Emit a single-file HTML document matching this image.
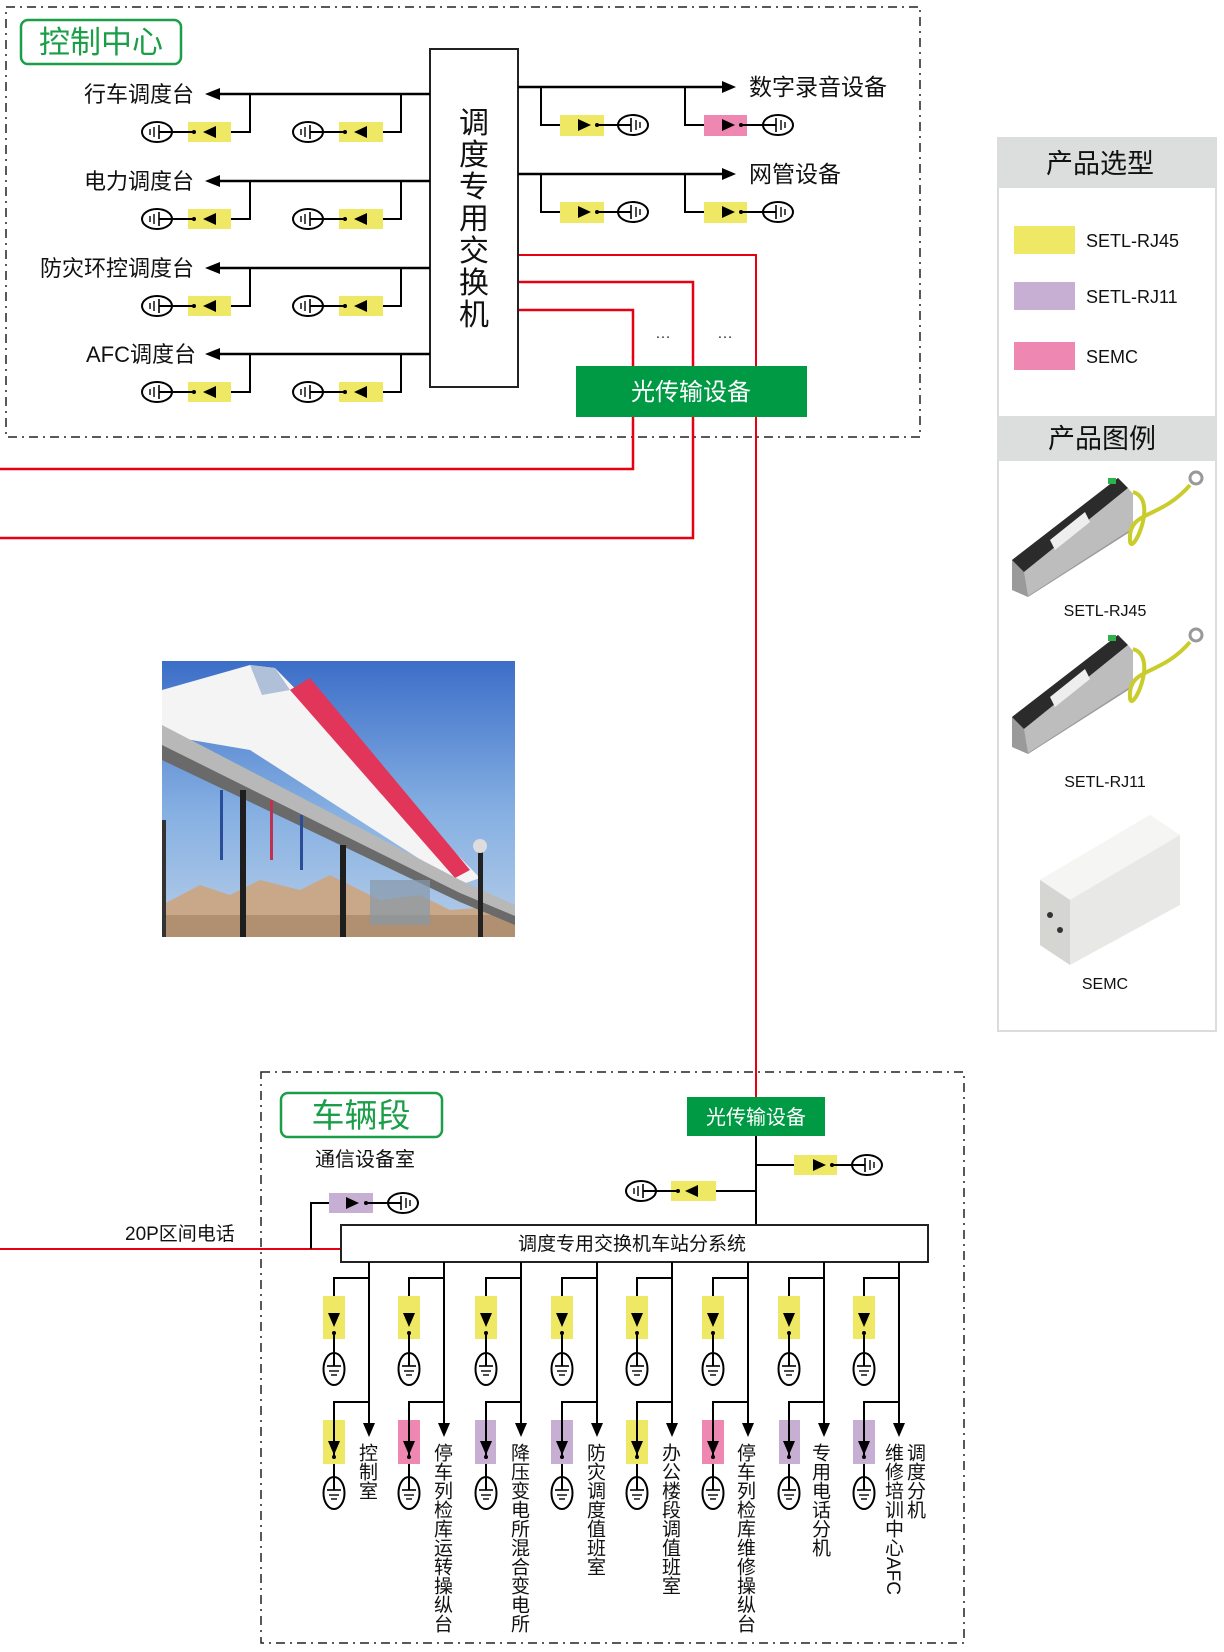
<!DOCTYPE html>
<html><head><meta charset="utf-8">
<style>
html,body{margin:0;padding:0;background:#fff;}
body{width:1224px;height:1652px;position:relative;overflow:hidden;font-family:"Liberation Sans","Noto Sans CJK SC",sans-serif;}
svg{position:absolute;left:0;top:0;}
.vt{position:absolute;writing-mode:vertical-rl;text-orientation:mixed;font-size:19px;line-height:21px;color:#111;font-family:"Liberation Sans","Noto Sans CJK SC",sans-serif;}
</style></head><body>
<svg width="1224" height="1652" viewBox="0 0 1224 1652" xmlns="http://www.w3.org/2000/svg" font-family="Liberation Sans, Noto Sans CJK SC, sans-serif">
<defs>
  <g id="gL">
    <ellipse cx="0" cy="0" rx="15" ry="10" fill="#fff" stroke="#000" stroke-width="2"/>
    <line x1="2" y1="0" x2="16" y2="0" stroke="#000" stroke-width="2"/>
    <line x1="2" y1="-7" x2="2" y2="7" stroke="#000" stroke-width="1.6"/>
    <line x1="-3" y1="-5" x2="-3" y2="5" stroke="#000" stroke-width="1.4"/>
    <line x1="-7" y1="-3" x2="-7" y2="3" stroke="#000" stroke-width="1.4"/>
  </g>
  <g id="gR"><use href="#gL" transform="scale(-1,1)"/></g>
  <g id="gV">
    <ellipse cx="0" cy="0" rx="10.5" ry="16" fill="#fff" stroke="#000" stroke-width="2"/>
    <line x1="0" y1="-17" x2="0" y2="-3" stroke="#000" stroke-width="2"/>
    <line x1="-7" y1="-3" x2="7" y2="-3" stroke="#000" stroke-width="1.6"/>
    <line x1="-5" y1="2" x2="5" y2="2" stroke="#000" stroke-width="1.4"/>
    <line x1="-3" y1="6" x2="3" y2="6" stroke="#000" stroke-width="1.4"/>
  </g>
  <linearGradient id="sky" x1="0" y1="0" x2="0" y2="1">
    <stop offset="0" stop-color="#3c6ec8"/><stop offset="0.55" stop-color="#86b0e2"/><stop offset="1" stop-color="#b6cde8"/>
  </linearGradient>
</defs>

<rect x="6" y="7" width="914" height="430" fill="none" stroke="#222" stroke-width="1.5" stroke-dasharray="9,5,2,5"/>
<rect x="261" y="1072" width="703" height="571" fill="none" stroke="#222" stroke-width="1.5" stroke-dasharray="9,5,2,5"/>

<g fill="none" stroke="#e60012" stroke-width="2.5">
  <polyline points="518,310 633,310 633,469 0,469"/>
  <polyline points="518,282 693,282 693,538 0,538"/>
  <polyline points="518,255 756,255 756,1097" stroke-width="2"/>
  <polyline points="0,1249 341,1249" stroke-width="2"/>
</g>

<rect x="21" y="20" width="160" height="44" rx="7" fill="#fff" stroke="#1a9e48" stroke-width="2.5"/>
<text x="101" y="53" font-size="31" fill="#1a9e48" text-anchor="middle">控制中心</text>

<rect x="430" y="49" width="88" height="338" fill="#fff" stroke="#222" stroke-width="2"/>
<g font-size="30" fill="#111" text-anchor="middle">
  <text x="474" y="133">调</text><text x="474" y="165">度</text><text x="474" y="197">专</text><text x="474" y="229">用</text><text x="474" y="261">交</text><text x="474" y="293">换</text><text x="474" y="325">机</text>
</g>

<g font-size="22" fill="#111" text-anchor="end">
  <text x="194" y="102">行车调度台</text>
  <text x="194" y="189">电力调度台</text>
  <text x="194" y="276">防灾环控调度台</text>
  <text x="196" y="362">AFC调度台</text>
</g>
<g id="row1">
  <line x1="217" y1="94" x2="430" y2="94" stroke="#000" stroke-width="2.5"/>
  <polygon points="205,94 220,88 220,100" fill="#000"/>
  <polyline points="250,94 250,132 214,132" fill="none" stroke="#000" stroke-width="2"/>
  <polyline points="401,94 401,132 365,132" fill="none" stroke="#000" stroke-width="2"/>
  <rect x="188" y="122" width="43" height="20" fill="#efe865"/>
  <rect x="339" y="122" width="44" height="20" fill="#efe865"/>
  <polygon points="203,132 216,126 216,138" fill="#000"/>
  <polygon points="354,132 367,126 367,138" fill="#000"/>
  <circle cx="194" cy="132" r="2" fill="#000"/><circle cx="345" cy="132" r="2" fill="#000"/>
  <line x1="172" y1="132" x2="194" y2="132" stroke="#000" stroke-width="2"/>
  <line x1="323" y1="132" x2="345" y2="132" stroke="#000" stroke-width="2"/>
  <use href="#gL" x="157" y="132"/>
  <use href="#gL" x="308" y="132"/>
</g>
<use href="#row1" y="87"/>
<use href="#row1" y="174"/>
<use href="#row1" y="260"/>

<g font-size="23" fill="#111">
  <text x="749" y="95">数字录音设备</text>
  <text x="749" y="182">网管设备</text>
</g>
<g id="rrow">
  <line x1="518" y1="87" x2="724" y2="87" stroke="#000" stroke-width="2.5"/>
  <polygon points="736,87 722,81 722,93" fill="#000"/>
  <polyline points="541,87 541,125 580,125" fill="none" stroke="#000" stroke-width="2"/>
  <polyline points="685,87 685,125 722,125" fill="none" stroke="#000" stroke-width="2"/>
  <rect x="560" y="115" width="44" height="21" fill="#efe865"/>
  <polygon points="591,125 578,119 578,131" fill="#000"/>
  <circle cx="597" cy="125" r="2" fill="#000"/>
  <line x1="597" y1="125" x2="619" y2="125" stroke="#000" stroke-width="2"/>
  <use href="#gR" x="633" y="125"/>
</g>
<rect x="704" y="115" width="43" height="21" fill="#ee88b3"/>
<polygon points="735,125 722,119 722,131" fill="#000"/>
<circle cx="741" cy="125" r="2" fill="#000"/>
<line x1="741" y1="125" x2="764" y2="125" stroke="#000" stroke-width="2"/>
<use href="#gR" x="778" y="125"/>
<use href="#rrow" y="87"/>
<rect x="704" y="202" width="43" height="21" fill="#efe865"/>
<polygon points="735,212 722,206 722,218" fill="#000"/>
<circle cx="741" cy="212" r="2" fill="#000"/>
<line x1="741" y1="212" x2="764" y2="212" stroke="#000" stroke-width="2"/>
<use href="#gR" x="778" y="212"/>

<g font-size="16" fill="#333"><text x="655" y="338">…</text><text x="717" y="338">…</text></g>

<rect x="576" y="366" width="231" height="51" fill="#009a44"/>
<text x="691" y="400" font-size="24" fill="#fff" text-anchor="middle">光传输设备</text>

<!-- photo -->
<svg x="162" y="661" width="353" height="276" viewBox="162 661 353 276">
  <rect x="162" y="661" width="353" height="276" fill="url(#sky)"/>
  <polygon points="162,905 200,885 230,895 260,880 300,890 330,875 380,900 420,895 450,910 515,905 515,937 162,937" fill="#c9a88a"/>
  <rect x="162" y="915" width="353" height="22" fill="#b09070"/>
  <polygon points="162,690 250,665 275,668 480,878 460,885 250,750 162,735" fill="#f4f4f4"/>
  <polygon points="290,690 310,678 470,870 455,878" fill="#e2355a"/>
  <polygon points="250,665 275,668 290,690 262,695" fill="#b0c0d8"/>
  <polygon points="162,725 460,880 515,905 515,918 460,895 162,752" fill="#b8b8b8"/>
  <polygon points="162,745 460,893 515,916 515,925 460,902 162,760" fill="#6a6a6a"/>
  <rect x="240" y="790" width="6" height="147" fill="#1e1e1e"/>
  <rect x="340" y="845" width="6" height="92" fill="#1e1e1e"/>
  <rect x="162" y="820" width="4" height="117" fill="#333"/>
  <rect x="478" y="850" width="5" height="87" fill="#222"/>
  <circle cx="480" cy="846" r="7" fill="#ddd"/>
  <rect x="220" y="790" width="3" height="70" fill="#2a4d9a"/>
  <rect x="270" y="800" width="3" height="60" fill="#c03050"/>
  <rect x="300" y="815" width="3" height="55" fill="#2a4d9a"/>
  <rect x="370" y="880" width="60" height="45" fill="#8898a8" opacity="0.7"/>
</svg>

<!-- legend -->
<rect x="998" y="138" width="218" height="893" fill="#fff" stroke="#dcdcdc" stroke-width="2"/>
<rect x="998" y="138" width="218" height="50" fill="#dcdddd"/>
<text x="1100" y="173" font-size="27" fill="#111" text-anchor="middle">产品选型</text>
<rect x="1014" y="226" width="61" height="28" fill="#efe865"/>
<rect x="1014" y="282" width="61" height="28" fill="#c6afd3"/>
<rect x="1014" y="342" width="61" height="28" fill="#ee88b3"/>
<g font-size="18" fill="#111">
  <text x="1086" y="247">SETL-RJ45</text>
  <text x="1086" y="303">SETL-RJ11</text>
  <text x="1086" y="363">SEMC</text>
</g>
<rect x="998" y="416" width="218" height="45" fill="#dcdddd"/>
<text x="1102" y="448" font-size="27" fill="#111" text-anchor="middle">产品图例</text>
<g id="dev">
  <polygon points="1012,560 1118,478 1133,494 1133,530 1028,597 1012,590" fill="#9a9a9a"/>
  <polygon points="1012,560 1118,478 1128,488 1024,572" fill="#2b2b2b"/>
  <polygon points="1024,572 1128,488 1133,494 1133,528 1028,596" fill="#bdbdbd"/>
  <polygon points="1050,540 1085,512 1090,522 1055,550" fill="#eee"/>
  <rect x="1108" y="478" width="8" height="6" fill="#2db34a"/>
  <path d="M1133,492 C1160,500 1130,560 1130,540 C1128,510 1160,520 1190,485" fill="none" stroke="#c9cc2a" stroke-width="4"/>
  <circle cx="1196" cy="478" r="6" fill="none" stroke="#999" stroke-width="3"/>
</g>
<use href="#dev" y="157"/>
<g>
  <polygon points="1040,880 1150,815 1180,835 1180,905 1070,965 1040,945" fill="#e8e8e6"/>
  <polygon points="1040,880 1150,815 1180,835 1070,900" fill="#f5f5f3"/>
  <polygon points="1040,880 1070,900 1070,965 1040,945" fill="#d5d5d2"/>
  <circle cx="1050" cy="915" r="3" fill="#333"/><circle cx="1060" cy="930" r="3" fill="#333"/>
</g>
<g font-size="16" fill="#111" text-anchor="middle">
  <text x="1105" y="616">SETL-RJ45</text>
  <text x="1105" y="787">SETL-RJ11</text>
  <text x="1105" y="989">SEMC</text>
</g>

<rect x="281" y="1093" width="161" height="44" rx="7" fill="#fff" stroke="#1a9e48" stroke-width="2.5"/>
<text x="361" y="1127" font-size="33" fill="#1a9e48" text-anchor="middle">车辆段</text>
<text x="315" y="1166" font-size="20" fill="#111">通信设备室</text>
<text x="125" y="1240" font-size="19" fill="#111">20P区间电话</text>

<rect x="687" y="1097" width="138" height="39" fill="#009a44"/>
<text x="756" y="1124" font-size="20" fill="#fff" text-anchor="middle">光传输设备</text>
<line x1="756" y1="1136" x2="756" y2="1225" stroke="#000" stroke-width="2"/>
<line x1="756" y1="1165" x2="815" y2="1165" stroke="#000" stroke-width="2"/>
<rect x="794" y="1155" width="43" height="20" fill="#efe865"/>
<polygon points="826,1165 813,1159 813,1171" fill="#000"/>
<circle cx="832" cy="1165" r="2" fill="#000"/>
<line x1="832" y1="1165" x2="853" y2="1165" stroke="#000" stroke-width="2"/>
<use href="#gR" x="867" y="1165"/>
<line x1="697" y1="1191" x2="756" y2="1191" stroke="#000" stroke-width="2"/>
<rect x="671" y="1181" width="45" height="20" fill="#efe865"/>
<polygon points="685,1191 698,1185 698,1197" fill="#000"/>
<circle cx="678" cy="1191" r="2" fill="#000"/>
<line x1="656" y1="1191" x2="678" y2="1191" stroke="#000" stroke-width="2"/>
<use href="#gL" x="641" y="1191"/>
<polyline points="311,1249 311,1203 345,1203" fill="none" stroke="#000" stroke-width="2"/>
<rect x="329" y="1193" width="44" height="20" fill="#c6afd3"/>
<polygon points="359,1203 346,1197 346,1209" fill="#000"/>
<circle cx="366" cy="1203" r="2" fill="#000"/>
<line x1="366" y1="1203" x2="389" y2="1203" stroke="#000" stroke-width="2"/>
<use href="#gR" x="403" y="1203"/>

<rect x="341" y="1225" width="587" height="37" fill="#fff" stroke="#222" stroke-width="2"/>
<text x="632" y="1250" font-size="19" fill="#111" text-anchor="middle">调度专用交换机车站分系统</text>

<g id="col" stroke="#000" stroke-width="2" fill="none">
  <line x1="369" y1="1262" x2="369" y2="1425"/>
  <polygon points="369,1437 363,1423 375,1423" fill="#000" stroke="none"/>
  <polyline points="369,1278 334,1278 334,1315"/>
  <rect x="323" y="1296" width="22" height="43" fill="#efe865" stroke="none"/>
  <polygon points="334,1327 328,1313 340,1313" fill="#000" stroke="none"/>
  <circle cx="334" cy="1333" r="2" fill="#000" stroke="none"/>
  <line x1="334" y1="1333" x2="334" y2="1353"/>
  <use href="#gV" x="334" y="1369"/>
  <polyline points="369,1402 334,1402 334,1443"/>
  <circle cx="334" cy="1457" r="2" fill="#000" stroke="none"/>
  <line x1="334" y1="1457" x2="334" y2="1477"/>
  <use href="#gV" x="334" y="1493"/>
</g>
<use href="#col" x="75"/>
<use href="#col" x="152"/>
<use href="#col" x="228"/>
<use href="#col" x="303"/>
<use href="#col" x="379"/>
<use href="#col" x="455"/>
<use href="#col" x="530"/>
<g>
  <rect x="323" y="1420" width="22" height="44" fill="#efe865"/>
  <rect x="398" y="1420" width="22" height="44" fill="#ee88b3"/>
  <rect x="475" y="1420" width="21" height="44" fill="#c6afd3"/>
  <rect x="551" y="1420" width="22" height="44" fill="#c6afd3"/>
  <rect x="626" y="1420" width="22" height="44" fill="#efe865"/>
  <rect x="702" y="1420" width="22" height="44" fill="#ee88b3"/>
  <rect x="779" y="1420" width="21" height="44" fill="#c6afd3"/>
  <rect x="853" y="1420" width="22" height="44" fill="#c6afd3"/>
</g>
<g id="barr" fill="#000">
  <line x1="334" y1="1402" x2="334" y2="1457" stroke="#000" stroke-width="2"/>
  <polygon points="334,1455 328,1441 340,1441"/>
  <circle cx="334" cy="1457" r="2"/>
</g>
<use href="#barr" x="75"/><use href="#barr" x="152"/><use href="#barr" x="228"/><use href="#barr" x="303"/><use href="#barr" x="379"/><use href="#barr" x="455"/><use href="#barr" x="530"/>
</svg>

<div class="vt" style="left:356px;top:1443px;">控制室</div>
<div class="vt" style="left:431px;top:1443px;">停车列检库运转操纵台</div>
<div class="vt" style="left:508px;top:1443px;">降压变电所混合变电所</div>
<div class="vt" style="left:584px;top:1443px;">防灾调度值班室</div>
<div class="vt" style="left:659px;top:1443px;">办公楼段调值班室</div>
<div class="vt" style="left:734px;top:1443px;">停车列检库维修操纵台</div>
<div class="vt" style="left:809px;top:1443px;">专用电话分机</div>
<div class="vt" style="left:904px;top:1443px;">调度分机</div>
<div class="vt" style="left:882px;top:1443px;">维修培训中心AFC</div>
</body></html>
